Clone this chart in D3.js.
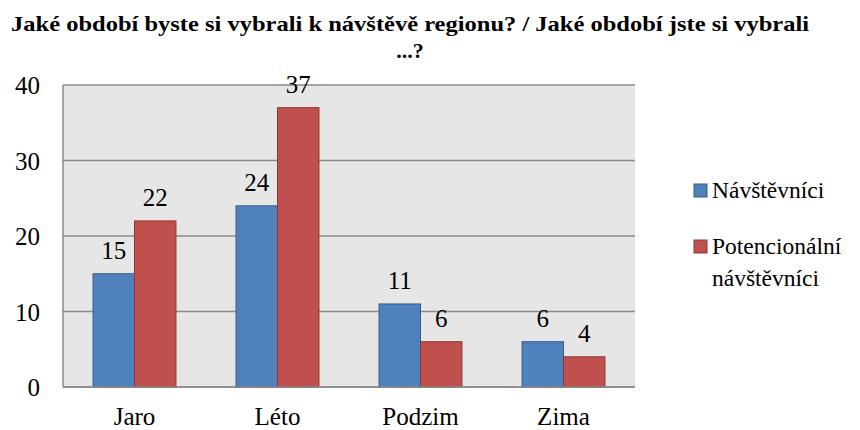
<!DOCTYPE html>
<html><head><meta charset="utf-8">
<script src="https://cdn.jsdelivr.net/npm/d3@7"></script>
<style>body{margin:0;background:#fff}svg{display:block}</style>
</head><body>
<svg id="c" width="860" height="430"></svg>
<script>
const categories = ["Jaro", "Léto", "Podzim", "Zima"];
const seriesNames = ["Návštěvníci", "Potencionální návštěvníci"];
const visitors = [15, 24, 11, 6];
const potential = [22, 37, 6, 4];
const yTicks = [0, 10, 20, 30, 40];
const colors = ["#4f81bd", "#c0504d"];
const strokes = ["#385d8a", "#8c3836"];
const FF = "'Liberation Serif', 'Times New Roman', Times, serif";
const FS = 25;

const svg = d3.select("#c");
const m = {l: 63, r: 635, t: 85, b: 387};
const x = d3.scaleBand().domain(categories).range([m.l, m.r]).paddingInner(0).paddingOuter(0);
const y = d3.scaleLinear().domain([0, 40]).range([m.b, m.t]);
const series = [visitors, potential];

svg.append("rect").attr("x", m.l).attr("y", m.t).attr("width", m.r - m.l).attr("height", m.b - m.t).attr("fill", "#e6e6e6");

svg.append("g").selectAll("line").data(yTicks).join("line")
  .attr("x1", m.l).attr("x2", m.r).attr("y1", d => y(d)).attr("y2", d => y(d))
  .attr("stroke", "#8a8a8a").attr("stroke-width", 1.5);

const bw = x.bandwidth() * 0.29;
series.forEach((vals, si) => {
  const g = svg.append("g");
  g.selectAll("rect").data(vals).join("rect")
    .attr("x", (d, i) => x(categories[i]) + x.bandwidth() / 2 - bw + si * bw)
    .attr("y", d => y(d)).attr("width", bw).attr("height", d => y(0) - y(d))
    .attr("fill", colors[si]).attr("stroke", strokes[si]).attr("stroke-width", 1);
  g.selectAll("text").data(vals).join("text")
    .attr("font-family", FF)
    .attr("x", (d, i) => x(categories[i]) + x.bandwidth() / 2 - bw / 2 + si * bw)
    .attr("y", d => y(d) - 15).attr("text-anchor", "middle")
    .attr("font-size", FS).attr("fill", "#000").text(d => d);
});

// axes
svg.append("line").attr("x1", m.l).attr("x2", m.l).attr("y1", m.t).attr("y2", m.b).attr("stroke", "#8a8a8a").attr("stroke-width", 1.5);
svg.append("line").attr("x1", m.l).attr("x2", m.r).attr("y1", m.b).attr("y2", m.b).attr("stroke", "#8a8a8a").attr("stroke-width", 1.5);

svg.append("g").selectAll("text").data(yTicks).join("text")
  .attr("font-family", FF)
  .attr("x", 40).attr("y", d => y(d) + 9).attr("text-anchor", "end")
  .attr("font-size", FS).text(d => d);

svg.append("g").selectAll("text").data(categories).join("text")
  .attr("font-family", FF)
  .attr("x", d => x(d) + x.bandwidth() / 2).attr("y", 425).attr("text-anchor", "middle")
  .attr("font-size", FS).text(d => d);

// title
const title = svg.append("text").attr("font-family", FF).attr("text-anchor", "middle").attr("font-weight", "bold").attr("font-size", 22);
title.append("tspan").attr("x", 410).attr("y", 31)
  .attr("textLength", 798).attr("lengthAdjust", "spacingAndGlyphs")
  .text("Jaké období byste si vybrali k návštěvě regionu? /  Jaké období  jste si vybrali");
title.append("tspan").attr("x", 410).attr("y", 58).text("...?");

// legend
const leg = [
  {lines: ["Návštěvníci"], y: 198},
  {lines: ["Potencionální", "návštěvníci"], y: 254}
];
leg.forEach((l, i) => {
  svg.append("rect").attr("x", 694).attr("y", l.y - 14).attr("width", 13).attr("height", 13)
    .attr("fill", colors[i]).attr("stroke", strokes[i]).attr("stroke-width", 1);
  const t = svg.append("text").attr("font-family", FF).attr("font-size", 23.5);
  l.lines.forEach((ln, j) => t.append("tspan").attr("x", 712).attr("y", l.y + j * 32).text(ln));
});
</script>
</body></html>
